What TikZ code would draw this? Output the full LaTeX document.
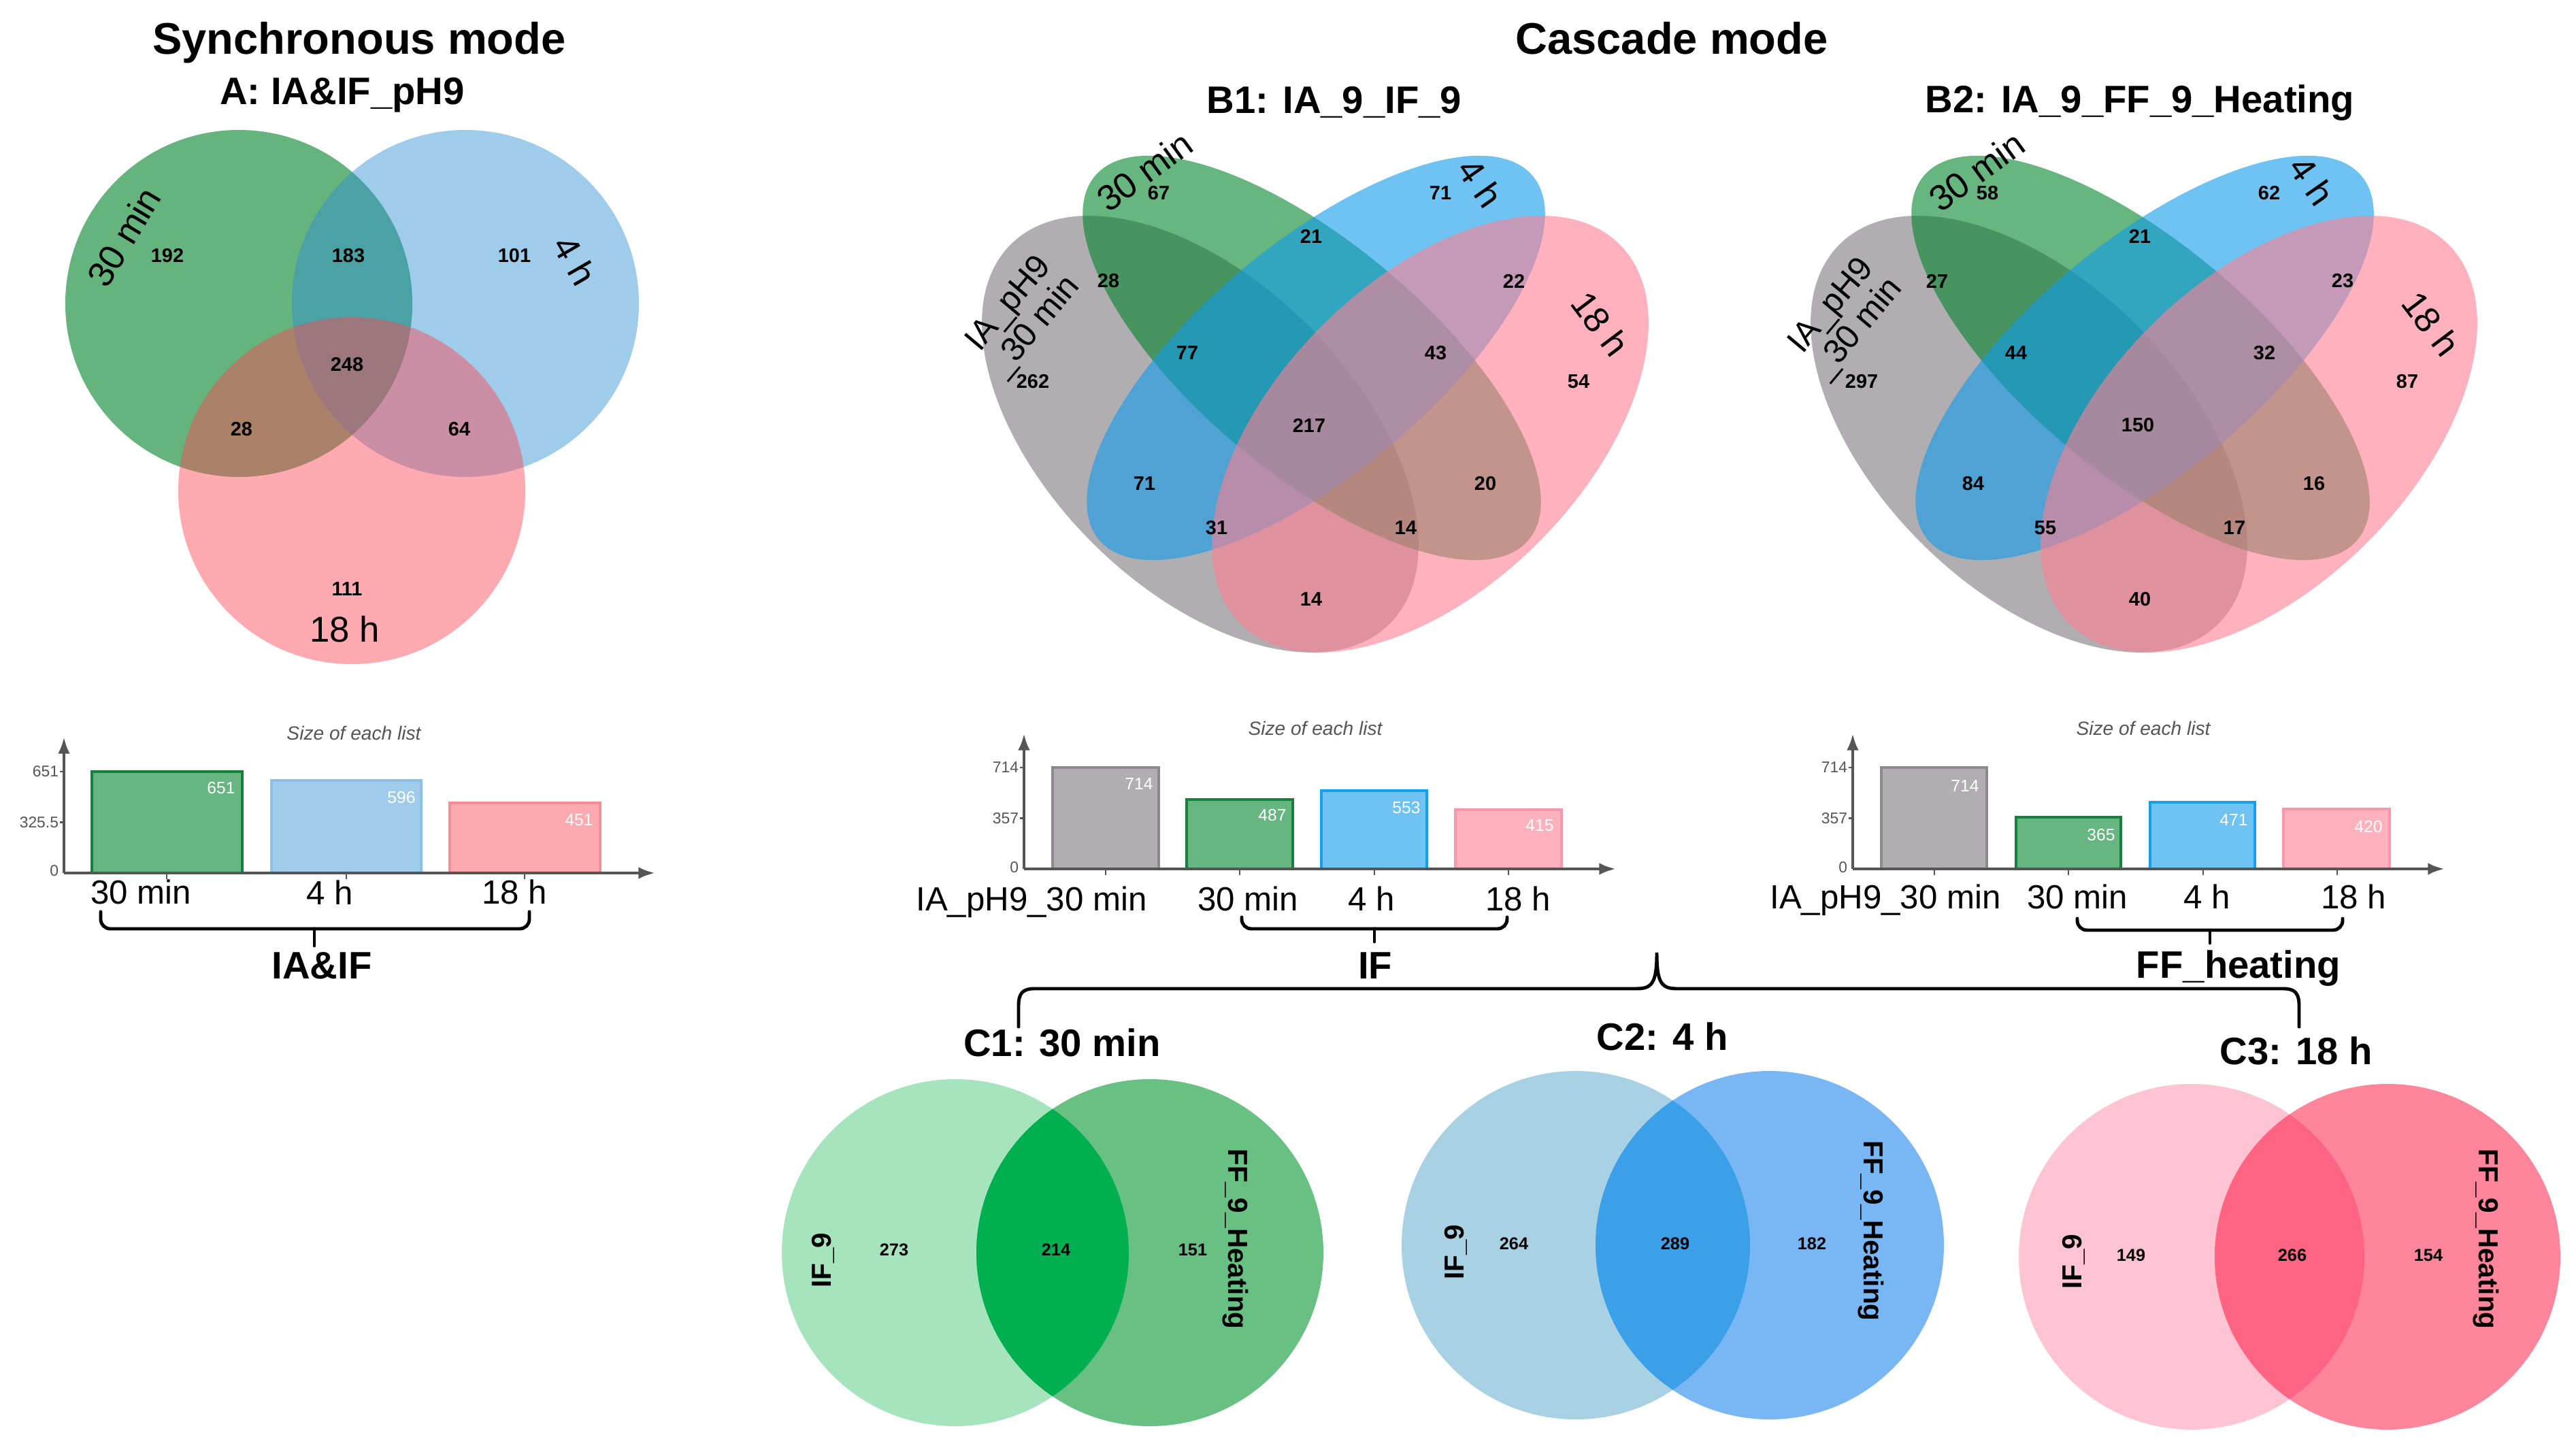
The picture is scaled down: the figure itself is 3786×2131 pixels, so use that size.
\documentclass[tikz,border=0pt]{standalone}
\usepackage{fontspec}
\setmainfont{Liberation Sans}
\usetikzlibrary{arrows.meta}
% Venn A
\definecolor{gA}{RGB}{101,180,126}
\definecolor{bA}{RGB}{44,142,211}
\definecolor{pA}{RGB}{255,67,80}
% Venn B
\definecolor{grB}{RGB}{176,174,176}
\definecolor{gB}{RGB}{2,132,43}
\definecolor{bB}{RGB}{15,155,235}
\definecolor{pB}{RGB}{255,127,147}
\definecolor{axg}{RGB}{85,85,85}
% bars
\definecolor{barG}{RGB}{103,181,128}
\definecolor{barGe}{RGB}{20,130,60}
\definecolor{barBA}{RGB}{160,204,235}
\definecolor{barBAe}{RGB}{140,192,228}
\definecolor{barPA}{RGB}{255,170,176}
\definecolor{barPAe}{RGB}{248,140,150}
\definecolor{barGr}{RGB}{176,174,176}
\definecolor{barGre}{RGB}{140,138,140}
\definecolor{barBB}{RGB}{111,195,243}
\definecolor{barBBe}{RGB}{20,160,235}
\definecolor{barPB}{RGB}{255,178,190}
\definecolor{barPBe}{RGB}{250,150,170}
% C
\definecolor{c1l}{RGB}{166,228,190}
\definecolor{c1r}{RGB}{104,192,131}
\definecolor{c1i}{RGB}{0,176,80}
\definecolor{c2l}{RGB}{168,210,228}
\definecolor{c2r}{RGB}{120,182,244}
\definecolor{c2i}{RGB}{60,160,232}
\definecolor{c3l}{RGB}{255,196,212}
\definecolor{c3r}{RGB}{255,133,155}
\definecolor{c3i}{RGB}{255,100,130}
\tikzset{
  every node/.style={inner sep=0pt, outer sep=0pt},
  ttl/.style={font=\fontsize{18.5}{21}\selectfont\bfseries, anchor=base},
  sub/.style={font=\fontsize{16}{18}\selectfont\bfseries, anchor=base},
  num/.style={font=\fontsize{8.2}{9}\selectfont\bfseries},
  cnum/.style={font=\fontsize{7.2}{8}\selectfont\bfseries},
  setlab/.style={font=\fontsize{15}{15.5}\selectfont},
  cset/.style={font=\fontsize{11.5}{12}\selectfont\bfseries},
  cat/.style={font=\fontsize{14}{16}\selectfont, anchor=base},
  brlab/.style={font=\fontsize{16}{18}\selectfont\bfseries, anchor=base},
  sizelab/.style={font=\fontsize{8}{9}\selectfont\itshape, text=axg},
  ticklab/.style={font=\fontsize{6.5}{7}\selectfont, text=axg, anchor=east},
  val/.style={font=\fontsize{7}{8}\selectfont, text=white},
  axisline/.style={draw=axg, line width=1.3pt, -{Latex[length=7pt,width=5pt]}},
  tickmark/.style={draw=axg, line width=0.6pt},
  brk/.style={line width=1.4pt, rounded corners=4pt, line cap=round},
}
\begin{document}
\begin{tikzpicture}[x=0.01cm, y=-0.01cm]
\fill[white] (0,0) rectangle (3786,2131);
\useasboundingbox (0,0) rectangle (3786,2131);

% ---------------- titles
\node[ttl] (tSync) at (528,80) {Synchronous mode};
\node[sub] (tA) at (503,154) {A: IA\&IF\_pH9};
\node[ttl] (tCas) at (2457,80) {Cascade mode};
\node[sub] (tB1) at (1961,167) {B1: IA\_9\_IF\_9};
\node[sub] (tB2) at (3145,166) {B2: IA\_9\_FF\_9\_Heating};

% ---------------- Venn A
\fill[gA] (351,446) circle (255);
\fill[bA, fill opacity=0.45] (684,446) circle (255);
\fill[pA, fill opacity=0.45] (517,721) circle (255);
\node[num] (a1) at (246,376) {192};
\node[num] (a2) at (512,376) {183};
\node[num] (a3) at (756,376) {101};
\node[num] (a4) at (510,536) {248};
\node[num] (a5) at (355,631) {28};
\node[num] (a6) at (675,631) {64};
\node[num] (a7) at (510,866) {111};
\node[setlab, rotate=59] (aS1) at (182,348) {30 min};
\node[setlab, rotate=-60] (aS2) at (845,383) {4 h};
\node[setlab] (aS3) at (507,925) {18 h};

% ---------------- Venn B1 and B2
\foreach \dx/\nm in {0/B1, 1218/B2}{
  \begin{scope}[shift={(\dx,0)}]
    \fill[grB, rotate around={-45:(1764,638)}] (1764,638) ellipse [x radius=394, y radius=225];
    \fill[gB, fill opacity=0.6, rotate around={-40:(1928,526)}] (1928,526) ellipse [x radius=416, y radius=169];
    \fill[bB, fill opacity=0.6, rotate around={40:(1934,526)}] (1934,526) ellipse [x radius=416, y radius=169];
    \fill[pB, fill opacity=0.6, rotate around={45:(2102,638)}] (2102,638) ellipse [x radius=394, y radius=225];
  \end{scope}
}
\foreach \x/\y/\u/\w [count=\i] in {1703/284/67/58, 2117/284/71/62, 1927/347/21/21,
  1629/413/28/27, 2225/413/22/23, 1745/519/77/44, 2110/519/43/32, 1518/561/262/297,
  2320/561/54/87, 1924/625/217/150, 1682/711/71/84, 2183/711/20/16, 1788/776/31/55,
  2066/776/14/17, 1927/881/14/40}{
  \node[num] (bOne\i) at (\x,\y) {\u};
  \node[num] (bTwo\i) at (\x+1218,\y) {\w};
}
\node[setlab, rotate=36] (b1S1) at (1682,252) {30 min};
\node[setlab, rotate=-55] (b1S2) at (2176,269) {4 h};
\node[setlab, rotate=-53] (b1S3) at (2352,476) {18 h};
\node[setlab, rotate=50, align=center, font=\fontsize{14}{14.5}\selectfont] (b1S0) at (1503,464) {IA\_pH9\\\_30 min};
\node[setlab, rotate=36] (b2S1) at (2905,252) {30 min};
\node[setlab, rotate=-55] (b2S2) at (3398,266) {4 h};
\node[setlab, rotate=-53] (b2S3) at (3573,476) {18 h};
\node[setlab, rotate=50, align=center, font=\fontsize{14}{14.5}\selectfont] (b2S0) at (2712,467) {IA\_pH9\\\_30 min};

% ---------------- Bar chart A
\node[sizelab] (szA) at (520,1077) {Size of each list};
\draw[barGe, fill=barG, line width=1.2pt] (135,1283) rectangle (356,1134);
\draw[barBAe, fill=barBA, line width=1pt] (399,1283) rectangle (619,1147);
\draw[barPAe, fill=barPA, line width=1pt] (661,1283) rectangle (882,1180);
\draw[axisline] (94,1283) -- (94,1083);
\draw[axisline] (94,1283) -- (963,1283);
\foreach \yy in {1134,1208.5} \draw[tickmark] (88,\yy) -- (94,\yy);
\foreach \xx in {245,509,771} \draw[tickmark] (\xx,1283) -- (\xx,1292);
\node[ticklab] (aT1) at (86,1134) {651};
\node[ticklab] (aT2) at (86,1208.5) {325.5};
\node[ticklab] (aT0) at (86,1280) {0};
\node[val] (aV1) at (325,1158) {651};
\node[val] (aV2) at (590,1172) {596};
\node[val] (aV3) at (851,1205) {451};
\node[cat] (aC1) at (207,1328) {30 min};
\node[cat] (aC2) at (485,1330) {4 h};
\node[cat] (aC3) at (756,1328) {18 h};
\draw[brk] (148,1340) |- (462,1365) -| (778,1340);
\coordinate (aStemTop) at (462,1365);
\coordinate (aStemBot) at (462,1390);
\draw[brk] (aStemTop) -- (aStemBot);
\node[brlab] (lIAIF) at (473,1438) {IA\&IF};

% ---------------- Bar charts B1 / B2
\node[sizelab] (szB1) at (1933,1070) {Size of each list};
\node[sizelab] (szB2) at (3150,1070) {Size of each list};
\foreach \dx in {0,1218}{
  \begin{scope}[shift={(\dx,0)}]
    \draw[axisline] (1505,1277) -- (1505,1078);
    \draw[axisline] (1505,1277) -- (2375,1277);
    \foreach \yy in {1128,1202.5} \draw[tickmark] (1499,\yy) -- (1505,\yy);
    \foreach \xx in {1625,1822,2020,2217} \draw[tickmark] (\xx,1277) -- (\xx,1286);
  \end{scope}
}
% B1 bars
\draw[barGre, fill=barGr, line width=1pt] (1547,1277) rectangle (1703,1128);
\draw[barGe, fill=barG, line width=1.2pt] (1744,1277) rectangle (1900,1175);
\draw[barBBe, fill=barBB, line width=1.2pt] (1942,1277) rectangle (2097,1162);
\draw[barPBe, fill=barPB, line width=1pt] (2139,1277) rectangle (2295,1190);
\draw[axg, line width=1.3pt] (1505,1277) -- (2360,1277);
% B2 bars
\draw[barGre, fill=barGr, line width=1pt] (2765,1277) rectangle (2920,1128);
\draw[barGe, fill=barG, line width=1.2pt] (2963,1277) rectangle (3117,1201);
\draw[barBBe, fill=barBB, line width=1.2pt] (3160,1277) rectangle (3314,1179);
\draw[barPBe, fill=barPB, line width=1pt] (3356,1277) rectangle (3512,1189);
\draw[axg, line width=1.3pt] (2723,1277) -- (3578,1277);
\draw[axg, line width=1.3pt] (94,1283) -- (950,1283);
% tick labels
\node[ticklab] (b1T1) at (1497,1128) {714};
\node[ticklab] (b1T2) at (1497,1202.5) {357};
\node[ticklab] (b1T0) at (1497,1275) {0};
\node[ticklab] (b2T1) at (2715,1128) {714};
\node[ticklab] (b2T2) at (2715,1202.5) {357};
\node[ticklab] (b2T0) at (2715,1275) {0};
% values
\node[val] (b1V1) at (1674,1152) {714};
\node[val] (b1V2) at (1870,1198) {487};
\node[val] (b1V3) at (2067,1187) {553};
\node[val] (b1V4) at (2263,1213) {415};
\node[val] (b2V1) at (2888,1155) {714};
\node[val] (b2V2) at (3088,1227) {365};
\node[val] (b2V3) at (3283,1205) {471};
\node[val] (b2V4) at (3481,1215) {420};
% categories
\node[cat] (b1C0) at (1516,1338) {IA\_pH9\_30 min};
\node[cat] (b1C1) at (1834,1338) {30 min};
\node[cat] (b1C2) at (2016,1338) {4 h};
\node[cat] (b1C3) at (2231,1338) {18 h};
\node[cat] (b2C0) at (2771,1335) {IA\_pH9\_30 min};
\node[cat] (b2C1) at (3053,1335) {30 min};
\node[cat] (b2C2) at (3244,1335) {4 h};
\node[cat] (b2C3) at (3459,1335) {18 h};
% brackets
\draw[brk] (1825,1348) |- (2020,1365) -| (2215,1348);
\coordinate (b1StemTop) at (2020,1365);
\coordinate (b1StemBot) at (2020,1384);
\draw[brk] (b1StemTop) -- (b1StemBot);
\node[brlab] (lIF) at (2021,1438) {IF};
\draw[brk] (3053,1350) |- (3248,1367) -| (3443,1350);
\coordinate (b2StemTop) at (3248,1367);
\coordinate (b2StemBot) at (3248,1386);
\draw[brk] (b2StemTop) -- (b2StemBot);
\node[brlab] (lFF) at (3290,1437) {FF\_heating};

% ---------------- big brace
\coordinate (brL) at (1497,1509);
\coordinate (brR) at (3379,1509);
\coordinate (brC) at (2435,1400);
\draw[line width=1.4pt, line cap=round] (brL) -- (1497,1478)
  .. controls (1497,1460) and (1503,1453) .. (1520,1453) -- (2405,1453)
  .. controls (2428,1453) and (2435,1445) .. (brC)
  .. controls (2435,1445) and (2442,1453) .. (2465,1453) -- (3356,1453)
  .. controls (3373,1453) and (3379,1460) .. (3379,1478) -- (brR);

% ---------------- C Venns
\node[sub] (tC1) at (1561,1552) {C1: 30 min};
\node[sub] (tC2) at (2443,1543) {C2: 4 h};
\node[sub] (tC3) at (3375,1564) {C3: 18 h};

\fill[c1l] (1404,1841) circle (255);
\fill[c1r] (1690,1841) circle (255);
\begin{scope}
  \clip (1404,1841) circle (255);
  \fill[c1i] (1690,1841) circle (255);
\end{scope}
\fill[c2l] (2316,1830) circle (256);
\fill[c2r] (2601,1830) circle (256);
\begin{scope}
  \clip (2316,1830) circle (256);
  \fill[c2i] (2601,1830) circle (256);
\end{scope}
\fill[c3l] (3221,1847) circle (254);
\fill[c3r] (3509,1847) circle (254);
\begin{scope}
  \clip (3221,1847) circle (254);
  \fill[c3i] (3509,1847) circle (254);
\end{scope}

\node[cnum] (c1a) at (1314,1837) {273};
\node[cnum] (c1b) at (1552,1837) {214};
\node[cnum] (c1c) at (1753,1837) {151};
\node[cnum] (c2a) at (2225,1828) {264};
\node[cnum] (c2b) at (2462,1828) {289};
\node[cnum] (c2c) at (2663,1828) {182};
\node[cnum] (c3a) at (3132,1845) {149};
\node[cnum] (c3b) at (3369,1845) {266};
\node[cnum] (c3c) at (3569,1845) {154};

\node[cset, rotate=90] (c1L) at (1210,1852) {IF\_9};
\node[cset, rotate=-90] (c1R) at (1816,1821) {FF\_9\_Heating};
\node[cset, rotate=90] (c2L) at (2140,1840) {IF\_9};
\node[cset, rotate=-90] (c2R) at (2750,1809) {FF\_9\_Heating};
\node[cset, rotate=90] (c3L) at (3048,1854) {IF\_9};
\node[cset, rotate=-90] (c3R) at (3654,1821) {FF\_9\_Heating};
\end{tikzpicture}
\end{document}
